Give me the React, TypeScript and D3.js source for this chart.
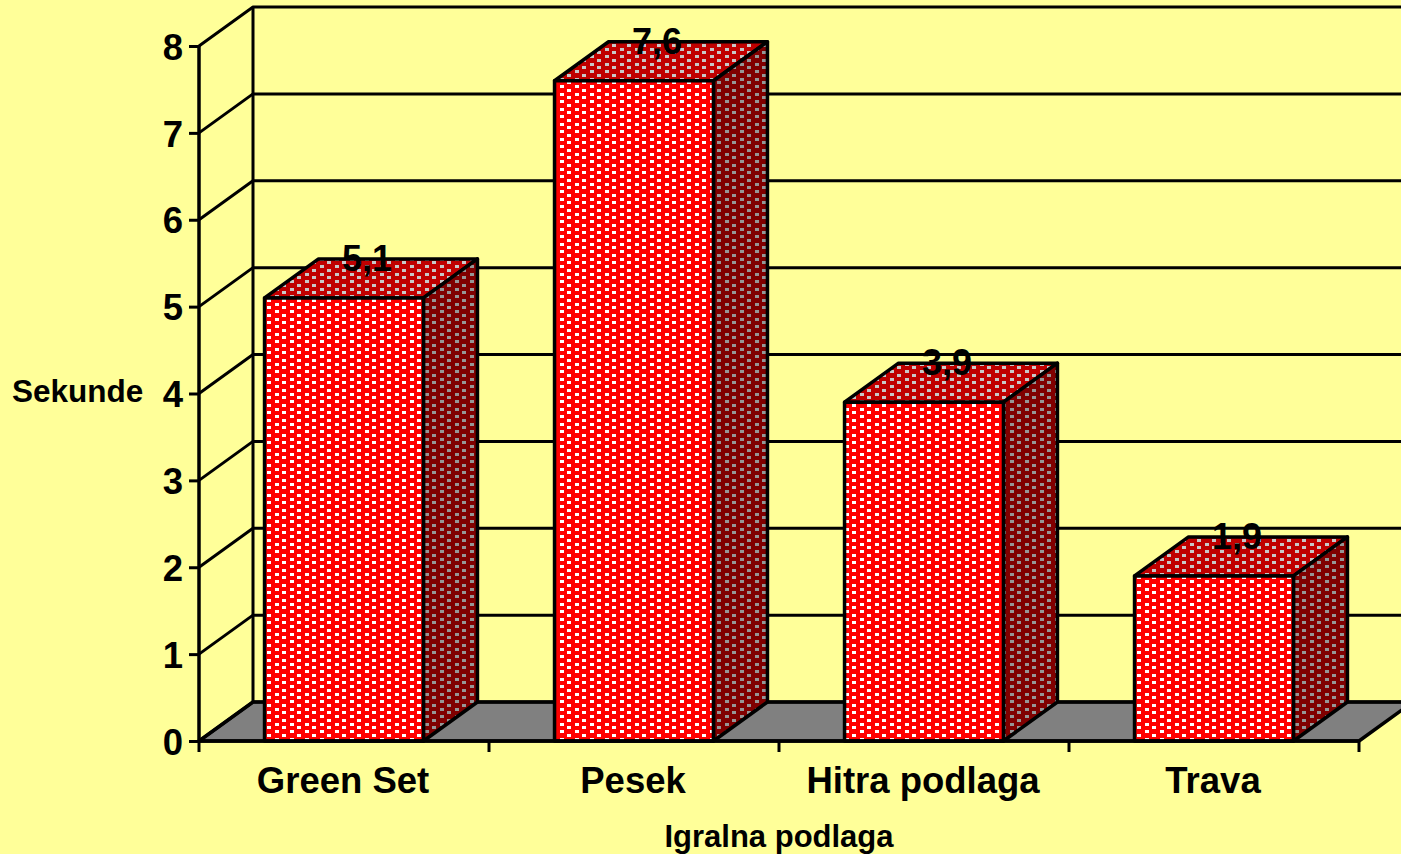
import { useEffect, useRef } from "react";
import * as d3 from "d3";

const categories = ["Green Set", "Pesek", "Hitra podlaga", "Trava"];
const values = [5.1, 7.6, 3.9, 1.9];
const valueLabels = ["5,1", "7,6", "3,9", "1,9"];
const yTicks = [0, 1, 2, 3, 4, 5, 6, 7, 8];

const width = 1401;
const height = 854;
const left = 199;
const right = 1359;
const bottom = 741;
const top = 46;
const depthX = 54;
const depthY = 39;
const font = "'Liberation Sans', Arial, sans-serif";

const App = () => {
  const svgRef = useRef<SVGSVGElement>(null);

  useEffect(() => {
    document.body.style.margin = "0";

    const svg = d3.select(svgRef.current);
    svg.selectAll("*").remove();

    const x = d3.scaleBand<string>()
      .domain(categories)
      .range([left, right])
      .paddingInner(0.452)
      .paddingOuter(0.226);

    const y = d3.scaleLinear().domain([0, 8]).range([bottom, top]);

    svg.append("rect").attr("width", width).attr("height", height).attr("fill", "#FFFF99");

    // dot fills for the three faces of a bar
    const defs = svg.append("defs");
    const addPattern = (id: string, bg: string, dot: string) => {
      const p = defs.append("pattern")
        .attr("id", id)
        .attr("patternUnits", "userSpaceOnUse")
        .attr("x", 267).attr("y", 299)
        .attr("width", 15).attr("height", 15);
      p.append("rect").attr("width", 15).attr("height", 15).attr("fill", bg);
      [[0, 0], [8, 4], [0, 7], [8, 11]].forEach(([dx, dy]) => {
        p.append("rect")
          .attr("x", dx).attr("y", dy)
          .attr("width", 4).attr("height", 3)
          .attr("fill", dot)
          .attr("shape-rendering", "crispEdges");
      });
    };
    addPattern("front", "#FF0000", "#FFFFFF");
    addPattern("topFace", "#C00000", "#C8C8C8");
    addPattern("side", "#800000", "#969696");

    const stroked = (sel: any, w = 3) => sel.attr("stroke", "#000").attr("stroke-width", w).attr("stroke-linejoin", "round");

    // floor
    const floor = [
      [left, bottom],
      [left + depthX, bottom - depthY],
      [right + depthX, bottom - depthY],
      [right, bottom],
    ];
    stroked(svg.append("path").attr("d", `M${floor.join("L")}Z`).attr("fill", "#808080"), 3.5);

    // gridlines on the side and back walls
    yTicks.forEach(t => {
      const yy = y(t);
      stroked(svg.append("path")
        .attr("fill", "none")
        .attr("d", `M${left},${yy}L${left + depthX},${yy - depthY}L${right + depthX},${yy - depthY}`));
    });
    stroked(svg.append("line")
      .attr("x1", left + depthX).attr("x2", left + depthX)
      .attr("y1", y(8) - depthY).attr("y2", bottom - depthY));

    // bars
    categories.forEach((c, i) => {
      const x0 = x(c)!;
      const x1 = x0 + x.bandwidth();
      const yTop = y(values[i]);
      const g = svg.append("g");
      stroked(g.append("path").attr("fill", "url(#topFace)")
        .attr("d", `M${x0},${yTop}L${x0 + depthX},${yTop - depthY}L${x1 + depthX},${yTop - depthY}L${x1},${yTop}Z`), 3.5);
      stroked(g.append("path").attr("fill", "url(#side)")
        .attr("d", `M${x1},${yTop}L${x1 + depthX},${yTop - depthY}L${x1 + depthX},${bottom - depthY}L${x1},${bottom}Z`), 3.5);
      stroked(g.append("rect").attr("fill", "url(#front)")
        .attr("x", x0).attr("y", yTop).attr("width", x.bandwidth()).attr("height", bottom - yTop), 3.5);
    });

    // axes
    const yAxis = svg.append("g")
      .attr("transform", `translate(${left},0)`)
      .call(d3.axisLeft(y).tickValues(yTicks).tickFormat(d3.format("d")).tickSize(10).tickPadding(6));
    const xAxis = svg.append("g")
      .attr("transform", `translate(-1,${bottom})`)
      .call(d3.axisBottom(x).tickSize(0).tickPadding(26));
    xAxis.selectAll("path").remove();

    [yAxis, xAxis].forEach(a => {
      a.selectAll("path").attr("stroke", "#000").attr("stroke-width", 3.5);
      a.selectAll("line").attr("stroke", "#000").attr("stroke-width", 3);
      a.selectAll("text")
        .attr("font-family", font)
        .attr("font-weight", "bold")
        .attr("font-size", 36.5)
        .attr("fill", "#000");
    });
    yAxis.selectAll(".domain").attr("d", `M0,${y(8)}V${bottom}`);
    yAxis.selectAll("text").attr("dy", "0.36em");

    // x ticks sit between the categories
    const xTicks = d3.range(categories.length + 1).map(i => left + i * x.step());
    svg.append("g").selectAll("line")
      .data(xTicks)
      .enter()
      .append("line")
      .attr("x1", d => d).attr("x2", d => d)
      .attr("y1", bottom).attr("y2", bottom + 11)
      .attr("stroke", "#000").attr("stroke-width", 3);
    stroked(svg.append("line").attr("x1", left).attr("x2", right).attr("y1", bottom).attr("y2", bottom), 3.5);

    // value labels
    svg.append("g").selectAll("text")
      .data(categories)
      .enter()
      .append("text")
      .attr("x", d => x(d)! + x.bandwidth() / 2 + 23)
      .attr("y", (d, i) => y(values[i]) - 27)
      .attr("text-anchor", "middle")
      .attr("font-family", font)
      .attr("font-weight", "bold")
      .attr("font-size", 36)
      .attr("fill", "#000")
      .text((d, i) => valueLabels[i]);

    // axis titles
    svg.append("text")
      .attr("x", 12).attr("y", 402)
      .attr("font-family", font).attr("font-weight", "bold").attr("font-size", 31.5)
      .text("Sekunde");
    svg.append("text")
      .attr("x", 779).attr("y", 847)
      .attr("text-anchor", "middle")
      .attr("font-family", font).attr("font-weight", "bold").attr("font-size", 31)
      .text("Igralna podlaga");
  }, []);

  return <svg ref={svgRef} width={width} height={height} style={{ display: "block" }} />;
};

export default App;
